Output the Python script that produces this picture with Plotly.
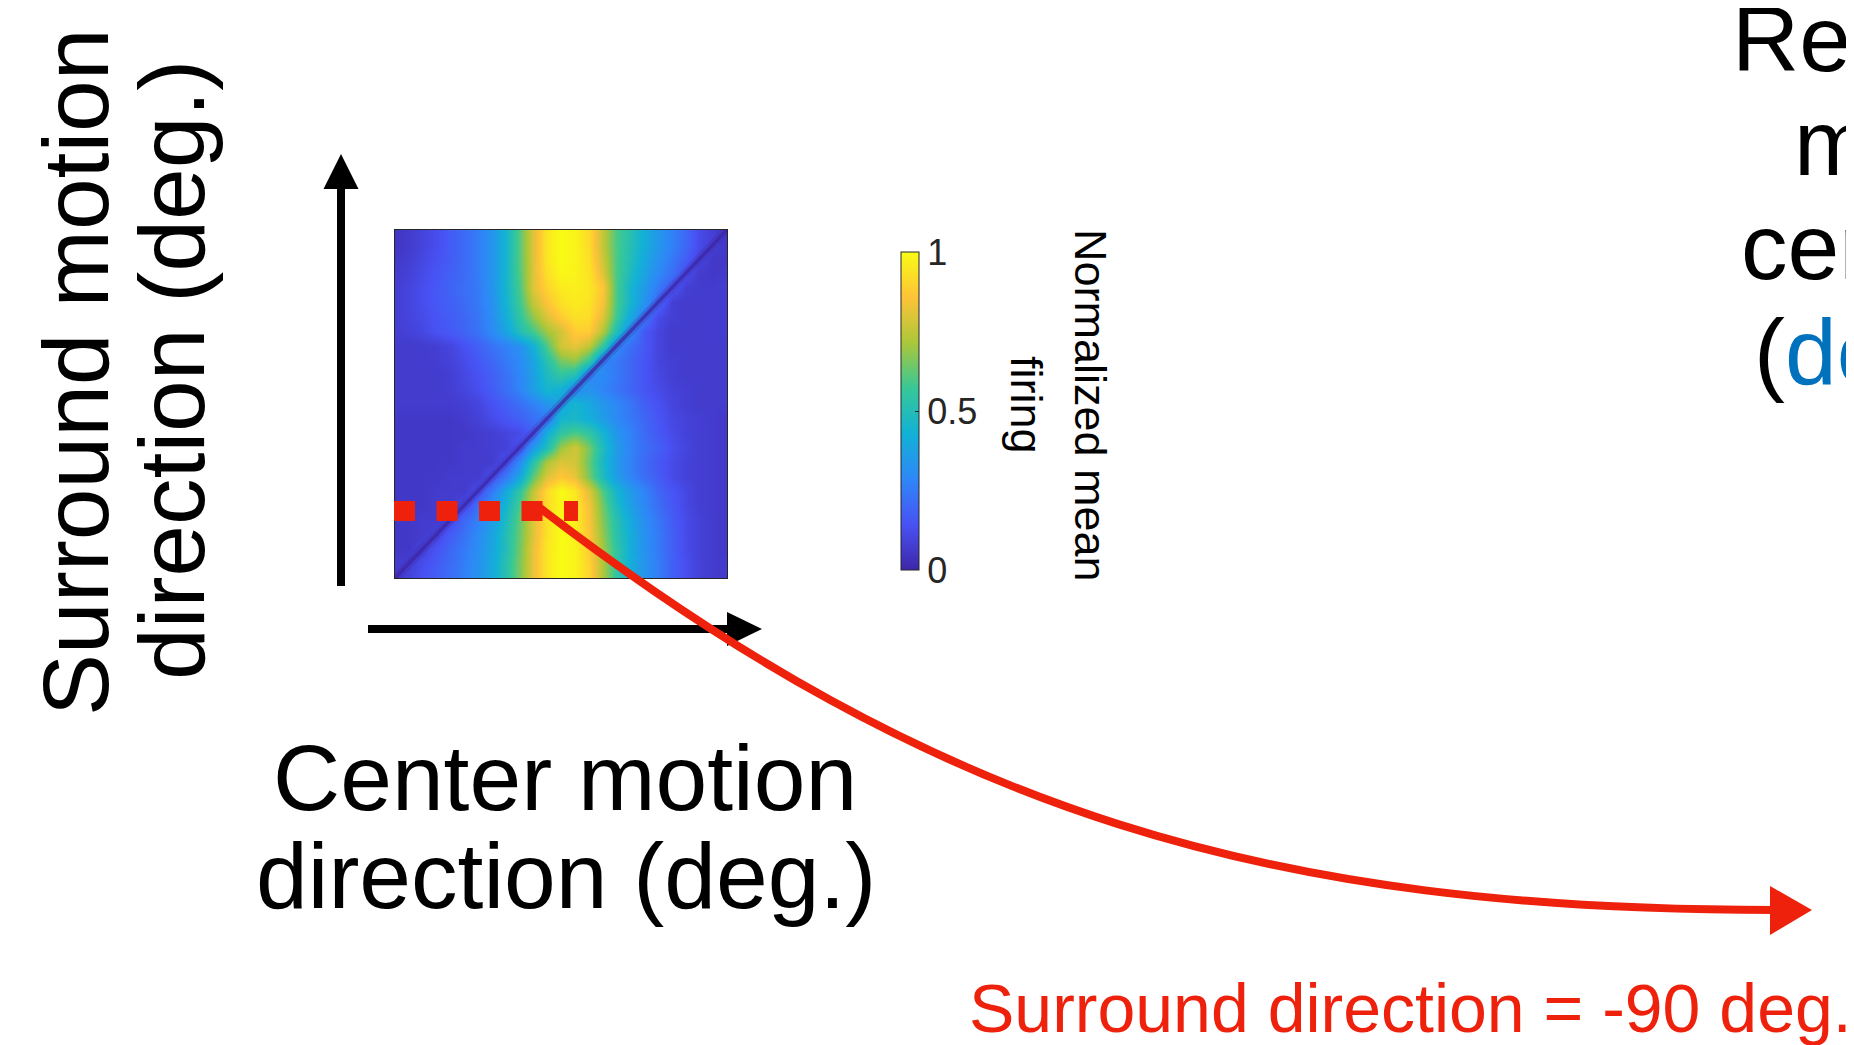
import plotly.graph_objects as go

W, H = 1854, 1045
OFF = 8  # the page body margin shifts the whole figure by 8 px

# ---------------- data ----------------
center_dirs = list(range(-180, 181, 15))     # x: center motion direction (deg)
surround_dirs = list(range(-180, 181, 15))   # y: surround motion direction (deg)

# normalized mean firing, rows = surround direction -180 ... 180 (bottom -> top)
firing = [
    [0.06, 0.10, 0.14, 0.18, 0.22, 0.27, 0.33, 0.40, 0.52, 0.66, 0.82, 0.95, 1.00, 0.98, 0.90, 0.72, 0.55, 0.42, 0.33, 0.26, 0.18, 0.13, 0.09, 0.07, 0.06],
    [0.07, 0.08, 0.13, 0.17, 0.21, 0.26, 0.32, 0.40, 0.52, 0.66, 0.82, 0.95, 1.00, 0.98, 0.90, 0.72, 0.55, 0.42, 0.33, 0.26, 0.18, 0.13, 0.09, 0.07, 0.07],
    [0.06, 0.06, 0.09, 0.15, 0.20, 0.25, 0.31, 0.39, 0.50, 0.65, 0.82, 0.95, 1.00, 0.98, 0.88, 0.70, 0.55, 0.42, 0.32, 0.25, 0.18, 0.12, 0.09, 0.07, 0.06],
    [0.06, 0.06, 0.07, 0.10, 0.17, 0.23, 0.30, 0.38, 0.50, 0.64, 0.80, 0.94, 1.00, 0.97, 0.86, 0.68, 0.53, 0.42, 0.32, 0.25, 0.18, 0.12, 0.09, 0.07, 0.06],
    [0.06, 0.06, 0.07, 0.07, 0.11, 0.20, 0.27, 0.36, 0.48, 0.63, 0.80, 0.94, 1.00, 0.97, 0.85, 0.66, 0.52, 0.40, 0.31, 0.24, 0.17, 0.12, 0.09, 0.07, 0.06],
    [0.06, 0.06, 0.06, 0.07, 0.07, 0.12, 0.22, 0.32, 0.45, 0.60, 0.78, 0.92, 0.99, 0.96, 0.84, 0.64, 0.48, 0.37, 0.29, 0.22, 0.16, 0.11, 0.08, 0.07, 0.06],
    [0.06, 0.06, 0.06, 0.07, 0.07, 0.07, 0.13, 0.25, 0.40, 0.55, 0.75, 0.92, 1.00, 0.95, 0.80, 0.60, 0.45, 0.35, 0.28, 0.20, 0.15, 0.11, 0.08, 0.07, 0.06],
    [0.06, 0.06, 0.06, 0.06, 0.07, 0.07, 0.07, 0.14, 0.25, 0.40, 0.62, 0.80, 0.87, 0.82, 0.65, 0.48, 0.36, 0.28, 0.22, 0.17, 0.12, 0.09, 0.08, 0.07, 0.06],
    [0.06, 0.06, 0.06, 0.06, 0.06, 0.07, 0.07, 0.07, 0.14, 0.30, 0.52, 0.72, 0.80, 0.78, 0.63, 0.46, 0.35, 0.27, 0.21, 0.16, 0.12, 0.09, 0.08, 0.07, 0.06],
    [0.06, 0.06, 0.06, 0.06, 0.06, 0.07, 0.07, 0.08, 0.09, 0.15, 0.35, 0.50, 0.70, 0.78, 0.65, 0.48, 0.36, 0.28, 0.22, 0.18, 0.13, 0.10, 0.08, 0.07, 0.06],
    [0.06, 0.06, 0.06, 0.06, 0.06, 0.06, 0.07, 0.08, 0.10, 0.12, 0.18, 0.42, 0.55, 0.60, 0.55, 0.44, 0.34, 0.27, 0.21, 0.16, 0.12, 0.09, 0.08, 0.07, 0.06],
    [0.06, 0.06, 0.06, 0.06, 0.06, 0.07, 0.09, 0.12, 0.15, 0.18, 0.22, 0.25, 0.45, 0.46, 0.42, 0.36, 0.30, 0.25, 0.20, 0.15, 0.11, 0.09, 0.08, 0.07, 0.06],
    [0.07, 0.07, 0.07, 0.07, 0.07, 0.08, 0.10, 0.14, 0.18, 0.22, 0.27, 0.33, 0.38, 0.45, 0.40, 0.34, 0.29, 0.24, 0.18, 0.14, 0.10, 0.08, 0.07, 0.07, 0.07],
    [0.07, 0.07, 0.07, 0.07, 0.08, 0.10, 0.13, 0.17, 0.22, 0.28, 0.36, 0.45, 0.42, 0.30, 0.33, 0.28, 0.24, 0.20, 0.15, 0.12, 0.09, 0.08, 0.07, 0.07, 0.07],
    [0.07, 0.07, 0.07, 0.07, 0.08, 0.11, 0.14, 0.18, 0.23, 0.29, 0.37, 0.48, 0.55, 0.50, 0.28, 0.30, 0.25, 0.20, 0.15, 0.11, 0.08, 0.07, 0.07, 0.07, 0.07],
    [0.07, 0.07, 0.07, 0.08, 0.09, 0.12, 0.16, 0.20, 0.25, 0.30, 0.38, 0.52, 0.65, 0.68, 0.55, 0.28, 0.25, 0.20, 0.15, 0.10, 0.08, 0.07, 0.07, 0.07, 0.07],
    [0.07, 0.07, 0.07, 0.08, 0.10, 0.14, 0.18, 0.23, 0.27, 0.32, 0.42, 0.60, 0.78, 0.82, 0.75, 0.55, 0.30, 0.22, 0.16, 0.10, 0.07, 0.07, 0.07, 0.07, 0.07],
    [0.08, 0.09, 0.11, 0.14, 0.16, 0.19, 0.23, 0.30, 0.38, 0.50, 0.58, 0.70, 0.78, 0.88, 0.88, 0.72, 0.50, 0.30, 0.16, 0.10, 0.07, 0.07, 0.07, 0.07, 0.08],
    [0.08, 0.10, 0.12, 0.15, 0.17, 0.20, 0.24, 0.31, 0.42, 0.55, 0.68, 0.80, 0.88, 0.93, 0.92, 0.80, 0.58, 0.40, 0.25, 0.12, 0.08, 0.07, 0.07, 0.07, 0.08],
    [0.08, 0.10, 0.13, 0.16, 0.18, 0.21, 0.25, 0.32, 0.44, 0.58, 0.75, 0.86, 0.93, 0.96, 0.94, 0.84, 0.60, 0.45, 0.33, 0.20, 0.08, 0.07, 0.07, 0.07, 0.08],
    [0.08, 0.10, 0.13, 0.16, 0.19, 0.22, 0.25, 0.33, 0.45, 0.60, 0.80, 0.90, 0.96, 0.97, 0.95, 0.86, 0.60, 0.45, 0.35, 0.25, 0.15, 0.08, 0.07, 0.07, 0.08],
    [0.07, 0.09, 0.12, 0.15, 0.18, 0.21, 0.26, 0.33, 0.45, 0.61, 0.80, 0.93, 0.99, 0.98, 0.94, 0.80, 0.60, 0.48, 0.38, 0.29, 0.22, 0.13, 0.07, 0.06, 0.07],
    [0.06, 0.08, 0.11, 0.14, 0.17, 0.21, 0.26, 0.33, 0.45, 0.62, 0.80, 0.95, 1.00, 0.98, 0.93, 0.77, 0.60, 0.50, 0.40, 0.32, 0.25, 0.17, 0.10, 0.06, 0.06],
    [0.05, 0.07, 0.10, 0.13, 0.17, 0.21, 0.26, 0.33, 0.45, 0.62, 0.80, 0.95, 1.00, 0.98, 0.92, 0.75, 0.60, 0.51, 0.42, 0.34, 0.27, 0.20, 0.12, 0.08, 0.06],
    [0.05, 0.07, 0.10, 0.13, 0.17, 0.21, 0.26, 0.33, 0.45, 0.62, 0.80, 0.95, 1.00, 0.98, 0.92, 0.75, 0.60, 0.52, 0.42, 0.34, 0.27, 0.20, 0.12, 0.08, 0.05],
]

colorbar_ticks = [0, 0.5, 1]
colorbar_ticktext = ["0", "0.5", "1"]

# MATLAB parula (8 anchors)
parula = [
    [0 / 7, "rgb(62,38,168)"],
    [1 / 7, "rgb(72,82,244)"],
    [2 / 7, "rgb(46,135,247)"],
    [3 / 7, "rgb(18,177,214)"],
    [4 / 7, "rgb(55,200,151)"],
    [5 / 7, "rgb(171,199,57)"],
    [6 / 7, "rgb(254,195,56)"],
    [7 / 7, "rgb(249,251,21)"],
]

RED = "#EE220C"
BLUE = "#0072BD"
FONT = "Liberation Sans, Arial, Helvetica, sans-serif"


def px(x):
    return (x - OFF) / W


def py(y):
    return 1 - (y - OFF) / H


fig = go.Figure()
fig.add_trace(go.Heatmap(
    x=center_dirs, y=surround_dirs, z=firing,
    zmin=0, zmax=1, zsmooth="best",
    colorscale=parula, hoverinfo="skip",
    colorbar=dict(
        x=px(901), xanchor="left", xpad=0, ypad=0,
        y=py(411), yanchor="middle",
        len=318, lenmode="pixels",
        thickness=18, thicknessmode="pixels",
        outlinewidth=1, outlinecolor="#262626",
        tickvals=colorbar_ticks, ticktext=colorbar_ticktext,
        ticks="inside", ticklen=4, tickcolor="#262626",
        tickfont=dict(family=FONT, size=36, color="#262626"),
    ),
))
# suppression notch where center == surround (soft halo + dark core)
fig.add_trace(go.Scatter(x=center_dirs, y=surround_dirs, mode="lines",
                         line=dict(color="rgba(62,38,168,0.25)", width=9),
                         hoverinfo="skip", showlegend=False))
fig.add_trace(go.Scatter(x=center_dirs, y=surround_dirs, mode="lines",
                         line=dict(color="rgba(60,38,165,0.75)", width=3.5),
                         hoverinfo="skip", showlegend=False))

axis_common = dict(showticklabels=False, ticks="", showgrid=False, zeroline=False,
                   showline=True, mirror=True, linecolor="#262626", linewidth=1,
                   range=[-180, 180])

shapes = []
# black axis arrows
shapes.append(dict(type="line", xref="paper", yref="paper",
                   x0=px(341), y0=py(586), x1=px(341), y1=py(186),
                   line=dict(color="black", width=8)))
shapes.append(dict(type="path", xref="paper", yref="paper",
                   path=f"M {px(341)},{py(154)} L {px(323.5)},{py(189)} L {px(358.5)},{py(189)} Z",
                   fillcolor="black", line=dict(width=0)))
shapes.append(dict(type="line", xref="paper", yref="paper",
                   x0=px(368), y0=py(629), x1=px(729), y1=py(629),
                   line=dict(color="black", width=8)))
shapes.append(dict(type="path", xref="paper", yref="paper",
                   path=f"M {px(762)},{py(629)} L {px(727)},{py(612)} L {px(727)},{py(646)} Z",
                   fillcolor="black", line=dict(width=0)))
# red dotted line on the heat map
shapes.append(dict(type="line", xref="paper", yref="paper",
                   x0=px(394), y0=py(511), x1=px(578), y1=py(511),
                   line=dict(color=RED, width=20, dash="21px,21.5px")))
# red curved arrow
p0, c1, c2, p3 = (540, 508), (940, 815), (1270, 910), (1775, 910)
shapes.append(dict(type="path", xref="paper", yref="paper",
                   path=(f"M {px(p0[0])},{py(p0[1])} C {px(c1[0])},{py(c1[1])} "
                         f"{px(c2[0])},{py(c2[1])} {px(p3[0])},{py(p3[1])}"),
                   line=dict(color=RED, width=8), fillcolor="rgba(0,0,0,0)"))
shapes.append(dict(type="path", xref="paper", yref="paper",
                   path=f"M {px(1812)},{py(910)} L {px(1770)},{py(886)} L {px(1770)},{py(935)} Z",
                   fillcolor=RED, line=dict(width=0)))

annotations = []


def txt(text, x, y, size, color="black", angle=0, xanchor="center", yanchor="middle"):
    annotations.append(dict(text=text, x=px(x), y=py(y), xref="paper", yref="paper",
                            showarrow=False, textangle=angle, xanchor=xanchor, yanchor=yanchor,
                            font=dict(family=FONT, size=size, color=color)))


# x label
txt("Center motion", 565, 778, 93)
txt("direction (deg.)", 566, 876, 93)
# y label (rotated)
txt("Surround motion", 76, 372, 93, angle=-90)
txt("direction (deg.)", 172, 370, 93, angle=-90)
# colorbar label
txt("Normalized mean", 1091, 405, 45, angle=90)
txt("firing", 1027, 405, 45, angle=90)
# red caption
txt("Surround direction = -90 deg.", 967, 1008, 68, color=RED, xanchor="left")
# right-hand text (cut by the page edge)
txt("Recorded", 1730, 39, 93, xanchor="left")
txt("mean", 1792, 143, 93, xanchor="left")
txt("center", 1739, 247, 93, xanchor="left")
txt(f"(<span style='color:{BLUE}'>dots)</span>", 1752, 352, 93, xanchor="left")

fig.update_layout(
    width=W, height=H,
    margin=dict(l=0, r=0, t=0, b=0),
    paper_bgcolor="white", plot_bgcolor="white",
    xaxis=dict(domain=[px(395), px(727)], **axis_common),
    yaxis=dict(domain=[py(578), py(230)], **axis_common),
    shapes=shapes, annotations=annotations,
    showlegend=False,
)

fig.write_html("out.html", config={"displayModeBar": False})
